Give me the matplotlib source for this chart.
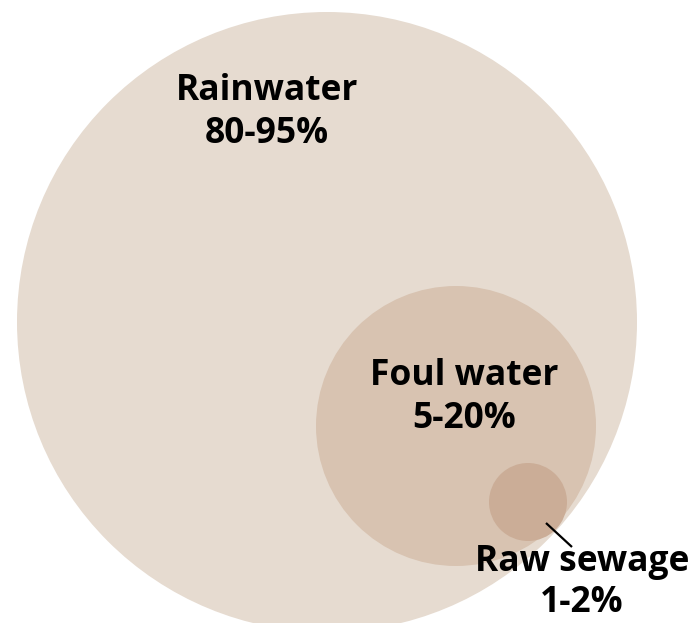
import matplotlib
matplotlib.use("Agg")
import matplotlib.pyplot as plt
from matplotlib.patches import Circle

# Data
categories = ["Rainwater", "Foul water", "Raw sewage"]
share_labels = ["80-95%", "5-20%", "1-2%"]
radii = [310, 140, 39]

# Layout (pixel coordinates, y downward)
centers = [(327, 322), (456, 426), (528, 502)]
colors = ["#e6dbd0", "#d8c3b1", "#cbad97"]
label_pos = [(267, 91), (464, 376), (582, 562)]
line_gap = [43, 43, 41]

plt.rcParams['font.family'] = ['Open Sans', 'DejaVu Sans']

fig = plt.figure(figsize=(6.96, 6.23), dpi=100)
ax = fig.add_axes([0, 0, 1, 1])
ax.set_xlim(0, 696)
ax.set_ylim(623, 0)
ax.set_aspect('equal')
ax.axis('off')

for (cx, cy), r, c in zip(centers, radii, colors):
    ax.add_patch(Circle((cx, cy), r, facecolor=c, edgecolor='none'))

# leader line for raw sewage
ax.plot([546, 572], [523, 547], color='black', lw=1.6, solid_capstyle='butt')

for (x, y), g, cat, sh in zip(label_pos, line_gap, categories, share_labels):
    ax.text(x, y, cat, ha='center', va='center', fontsize=25.5, fontweight='bold', color='black')
    ax.text(x, y + g, sh, ha='center', va='center', fontsize=25.5, fontweight='bold', color='black')

fig.savefig("out.png", dpi=100)
